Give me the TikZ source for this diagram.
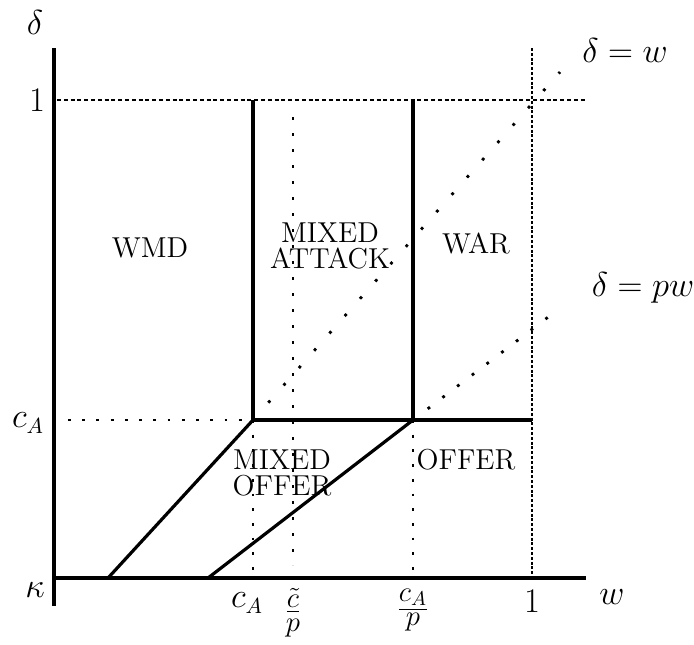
\documentclass[tikz,border=0pt]{standalone}
\usepackage{amsmath,amssymb}
\usepackage{tikz}
\usetikzlibrary{calc}

\begin{document}
\begin{tikzpicture}[
      x=0.5pt, y=-0.5pt,
      every node/.style={inner sep=0pt, text=black},
      mathlbl/.style={font=\fontsize{16}{19}\selectfont},
      fraclbl/.style={font=\fontsize{14.4}{12.2}\selectfont, align=center},
      region/.style={
        font=\fontsize{14.4}{13}\selectfont,
        align=center
      },
      axisline/.style={line width=1.7pt},
      bound/.style={line width=1.6pt},
      fineguide/.style={line width=1.4pt, dash pattern=on 2pt off 1.4pt},
      wguide/.style={line width=1.4pt, dash pattern=on 1.5pt off 0.9pt},
      sparseguide/.style={line width=1.4pt, dash pattern=on 1.4pt off 5.95pt},
      tildeguide/.style={line width=1.4pt, dash pattern=on 1.4pt off 6.6pt},
      diagdots/.style={line width=1.4pt}
    ]
      \useasboundingbox (0,0) rectangle (694,644);

      % key points of the (w, delta) plane
      \coordinate (origin) at (54,578);
      \coordinate (ytop) at (54,48);
      \coordinate (ybot) at (54,606);
      \coordinate (xend) at (586,578);
      \coordinate (oneL) at (57,100);
      \coordinate (oneR) at (587,100);
      \coordinate (cAL) at (68,420);
      \coordinate (cornerA) at (253,420);
      \coordinate (cornerB) at (413,420);
      \coordinate (cornerW) at (532,420);
      \coordinate (topA) at (253,100);
      \coordinate (topB) at (413,100);
      \coordinate (wtop) at (532,48);
      \coordinate (wbot) at (532,578);
      \coordinate (cAbot) at (253,578);
      \coordinate (cBbot) at (413,578);
      \coordinate (ctop) at (293,117);
      \coordinate (cbot) at (293,565);
      \coordinate (footA) at (108,578);
      \coordinate (footB) at (208,578);
      \coordinate (diagW) at (560,72);
      \coordinate (diagP) at (560,308);

      % guide lines
      \draw[fineguide] (oneL) -- (oneR);
      \draw[wguide] (wtop) -- (wbot);
      \draw[sparseguide, dash pattern=on 1.4pt off 5.72pt] (cAL) -- (cornerA);
      \draw[sparseguide] (cornerA) -- (cAbot);
      \draw[sparseguide] (cornerB) -- (cBbot);
      \draw[tildeguide] (ctop) -- (cbot);

      % delta = w and delta = pw
      \draw[diagdots, dash pattern=on 1.4pt off 10.15pt] (cornerA) -- (diagW);
      \draw[diagdots, dash pattern=on 1.4pt off 7.85pt] (cornerB) -- (diagP);

      % region boundaries
      \draw[bound] (topA) -- (cornerA) -- (cornerW);
      \draw[bound] (topB) -- (cornerB);
      \draw[bound] (footA) -- (cornerA);
      \draw[bound] (footB) -- (cornerB);

      % axes
      \draw[axisline] (ytop) -- (ybot);
      \draw[axisline] (origin) -- (xend);

      % axis labels
      \node[mathlbl] (dlab) at (35,22) {$\delta$};
      \node[mathlbl] (oneY) at (37,100) {$1$};
      \node[mathlbl] (cAY) at (28,423) {$c_A$};
      \node[mathlbl] (kap) at (35,590) {$\kappa$};
      \node[mathlbl] (cAX) at (247,603) {$c_A$};
      \node[fraclbl] (ctX) at (293,613) {$\underline{\tilde{c}}$\\$p$};
      \node[fraclbl] (cpX) at (413,610) {$\underline{c_A}$\\$p$};
      \node[mathlbl] (oneX) at (532,601) {$1$};
      \node[mathlbl] (wlab) at (612,597) {$w$};
      \node[mathlbl] (dw) at (625,50) {$\delta = w$};
      \node[mathlbl] (dpw) at (643,288) {$\delta = pw$};

      % regions
      \node[region] (wmd) at (150,248) {WMD};
      \node[region] (mixatt) at (330,246) {MIXED\\ATTACK};
      \node[region] (war) at (476,244) {WAR};
      \node[region] (mixoff) at (282,473) {MIXED\\OFFER};
      \node[region] (offer) at (466,460) {OFFER};
    \end{tikzpicture}
\end{document}
